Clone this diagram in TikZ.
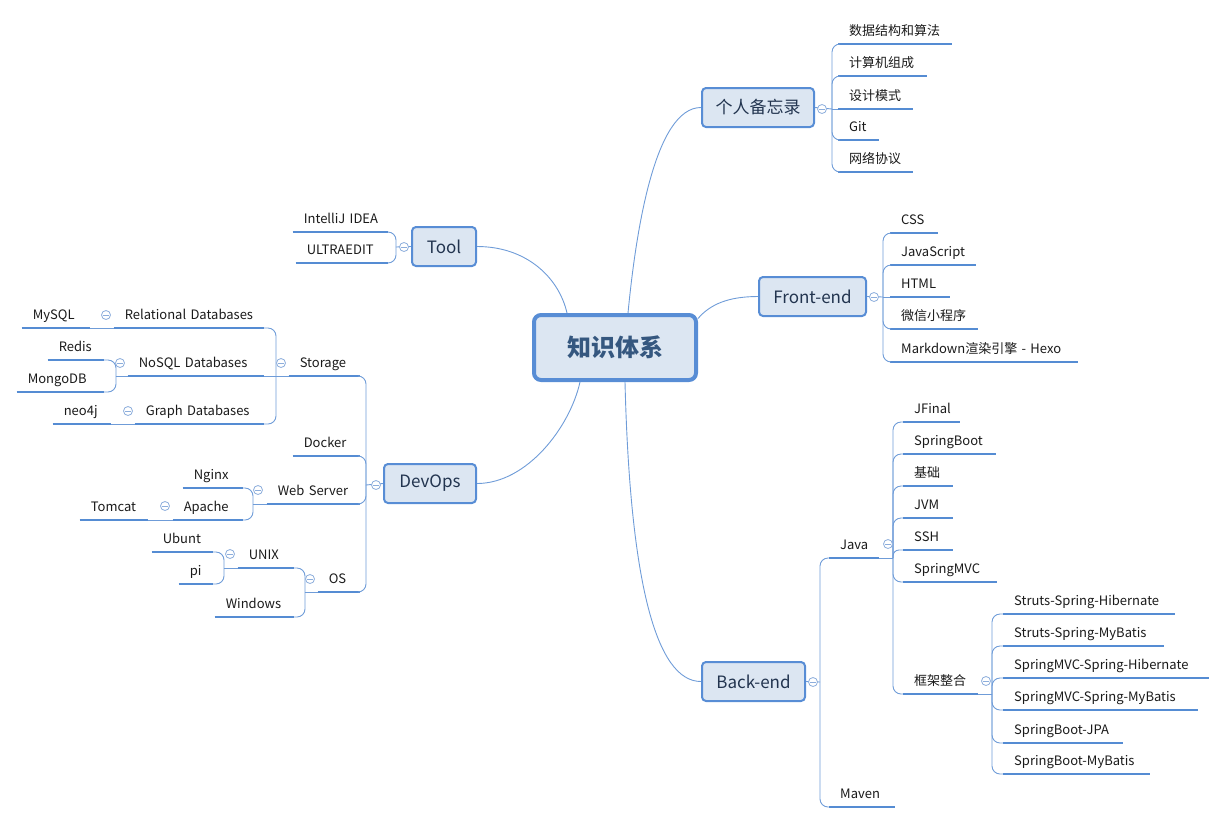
\documentclass[tikz,border=0pt]{standalone}
\usepackage{fontspec}
\setmainfont{Noto Sans CJK SC}
\definecolor{boxfill}{HTML}{DCE6F2}
\definecolor{boxline}{HTML}{588DD5}
\definecolor{ulc}{HTML}{558CD3}
\definecolor{connc}{HTML}{6F9CD8}
\definecolor{circc}{HTML}{8DAEDC}
\definecolor{txt}{HTML}{1A1A1A}
\definecolor{boxtxt}{HTML}{22344F}
\definecolor{centxt}{HTML}{35577F}
\begin{document}
\begin{tikzpicture}[x=1pt,y=1pt,
  conn/.style={draw=connc, line width=0.9pt},
  br/.style={conn, rounded corners=8pt},
  uln/.style={draw=ulc, line width=2.8pt},
  leaf/.style={text width=#1-22pt, align=left, inner xsep=11pt, inner ysep=5pt, text height=9.5pt, text depth=3pt,
    font=\fontsize{13}{15}\selectfont, text=txt,
    execute at begin node={\noindent\hbox\bgroup}, execute at end node={\egroup},
    append after command={(\tikzlastnode.south west) edge[uln] (\tikzlastnode.south east)}},
  topic/.style={draw=boxline, fill=boxfill, line width=2pt, rounded corners=4pt, minimum width=#1,
    minimum height=39pt, inner sep=0pt, font=\fontsize{17}{20}\selectfont, text=boxtxt},
  central/.style={draw=boxline, fill=boxfill, line width=4pt, rounded corners=7pt, minimum width=162pt,
    minimum height=65pt, inner sep=0pt, font=\fontsize{24}{28}\selectfont\bfseries, text=centxt},
  fold/.style={circle, draw=circc, fill=white, line width=0.8pt, minimum size=9pt, inner sep=0pt,
    path picture={\draw[circc, line width=0.8pt] ([xshift=-2.6pt]path picture bounding box.center) -- ([xshift=2.6pt]path picture bounding box.center);}}
]
\useasboundingbox (0,0) rectangle (1227,-823);

% ---------- main nodes ----------
\node[central] (cen) at (615,-347.5) {知识体系};
\node[topic=112] (mem) at (758,-107.5) {个人备忘录};
\node[topic=107] (fe) at (812.5,-296.5) {Front-end};
\node[topic=64] (tool) at (444,-246.5) {Tool};
\node[topic=92] (dev) at (430,-483.5) {DevOps};
\node[topic=103] (be) at (753.5,-681.5) {Back-end};

% ---------- 个人备忘录 ----------
\node[leaf=114, anchor=south west] (m1) at (838,-44) {数据结构和算法};
\node[leaf=89, anchor=south west] (m2) at (838,-76) {计算机组成};
\node[leaf=75, anchor=south west] (m3) at (838,-109) {设计模式};
\node[leaf=41, anchor=south west] (m4) at (838,-140) {Git};
\node[leaf=75, anchor=south west] (m5) at (838,-172) {网络协议};

% ---------- Front-end ----------
\node[leaf=48, anchor=south west] (f1) at (890,-233) {CSS};
\node[leaf=86, anchor=south west] (f2) at (890,-265) {JavaScript};
\node[leaf=60, anchor=south west] (f3) at (890,-297) {HTML};
\node[leaf=88, anchor=south west] (f4) at (890,-329) {微信小程序};
\node[leaf=188, anchor=south west] (f5) at (890,-362) {Markdown渲染引擎 - Hexo};

% ---------- Tool ----------
\node[leaf=95, anchor=south east] (t1) at (388,-232) {IntelliJ IDEA};
\node[leaf=92, anchor=south east] (t2) at (388,-263) {ULTRAEDIT};

% ---------- DevOps ----------
\node[leaf=71, anchor=south east] (d1) at (360,-376) {Storage};
\node[leaf=67, anchor=south east] (d2) at (360,-456) {Docker};
\node[leaf=93, anchor=south east] (d3) at (360,-504) {Web Server};
\node[leaf=42, anchor=south east] (d4) at (360,-592) {OS};

\node[leaf=150, anchor=south east] (s1) at (264,-328) {Relational Databases};
\node[leaf=136, anchor=south east] (s2) at (264,-376) {NoSQL Databases};
\node[leaf=129, anchor=south east] (s3) at (264,-424) {Graph Databases};
\node[leaf=68, anchor=south east] (mysql) at (90,-328) {MySQL};
\node[leaf=56, anchor=south east] (redis) at (104,-360) {Redis};
\node[leaf=87, anchor=south east] (mongo) at (104,-392) {MongoDB};
\node[leaf=58, anchor=south east] (neo) at (111,-424) {neo4j};

\node[leaf=60, anchor=south east] (nginx) at (243,-488) {Nginx};
\node[leaf=70, anchor=south east] (apache) at (243,-520) {Apache};
\node[leaf=68, anchor=south east] (tomcat) at (148,-520) {Tomcat};

\node[leaf=56, anchor=south east] (unix) at (294,-568) {UNIX};
\node[leaf=79, anchor=south east] (win) at (294,-617) {Windows};
\node[leaf=61, anchor=south east] (ubunt) at (213,-552) {Ubunt};
\node[leaf=34, anchor=south east] (pi) at (213,-584) {pi};

% ---------- Back-end ----------
\node[leaf=50, anchor=south west] (java) at (829,-558) {Java};
\node[leaf=66, anchor=south west] (maven) at (829,-807) {Maven};
\node[leaf=57, anchor=south west] (j1) at (903,-422) {JFinal};
\node[leaf=93, anchor=south west] (j2) at (903,-454) {SpringBoot};
\node[leaf=50, anchor=south west] (j3) at (903,-486) {基础};
\node[leaf=50, anchor=south west] (j4) at (903,-518) {JVM};
\node[leaf=50, anchor=south west] (j5) at (903,-550) {SSH};
\node[leaf=94, anchor=south west] (j6) at (903,-582) {SpringMVC};
\node[leaf=75, anchor=south west] (j7) at (903,-694) {框架整合};
\node[leaf=172, anchor=south west] (k1) at (1003,-614) {Struts-Spring-Hibernate};
\node[leaf=161, anchor=south west] (k2) at (1003,-646) {Struts-Spring-MyBatis};
\node[leaf=206, anchor=south west] (k3) at (1003,-678) {SpringMVC-Spring-Hibernate};
\node[leaf=195, anchor=south west] (k4) at (1003,-710) {SpringMVC-Spring-MyBatis};
\node[leaf=120, anchor=south west] (k5) at (1003,-743) {SpringBoot-JPA};
\node[leaf=147, anchor=south west] (k6) at (1003,-774) {SpringBoot-MyBatis};

% ---------- trunk points ----------
\coordinate (t-mem) at (832,-109);
\coordinate (t-fe) at (883,-297);
\coordinate (t-tool) at (396,-247);
\coordinate (t-dev) at (366,-485);
\coordinate (t-stor) at (276,-376);
\coordinate (t-nosql) at (116,-376);
\coordinate (t-web) at (253,-504);
\coordinate (t-os) at (305,-592);
\coordinate (t-unix) at (224,-568);
\coordinate (t-be) at (820,-682);
\coordinate (t-java) at (893,-558);
\coordinate (t-fw) at (992,-694);

% central connectors
\draw[conn] ([xshift=13pt]cen.north) .. controls +(8,83) and +(-46,0) .. (mem.west);
\draw[conn] ([yshift=29pt]cen.east) .. controls +(12,14) and +(-30,0) .. (fe.west);
\draw[conn] ([xshift=-48pt]cen.north) .. controls +(-8,35) and +(50,0) .. (tool.east);
\draw[conn] ([xshift=-35pt]cen.south) .. controls +(-10,-45) and +(50,0) .. (dev.east);
\draw[conn] ([xshift=10pt]cen.south) .. controls +(5,-200) and +(-45,0) .. (be.west);

% 个人备忘录
\draw[conn] (mem.east) -- (t-mem);
\draw[br] (t-mem) |- (m1.south west);
\draw[br] (t-mem) |- (m2.south west);
\draw[conn] (t-mem) -- (m3.south west);
\draw[br] (t-mem) |- (m4.south west);
\draw[br] (t-mem) |- (m5.south west);

% Front-end
\draw[conn] (fe.east) -- (t-fe);
\draw[br] (t-fe) |- (f1.south west);
\draw[br] (t-fe) |- (f2.south west);
\draw[conn] (t-fe) -- (f3.south west);
\draw[br] (t-fe) |- (f4.south west);
\draw[br] (t-fe) |- (f5.south west);

% Tool
\draw[conn] (tool.west) -- (t-tool);
\draw[br] (t-tool) |- (t1.south east);
\draw[br] (t-tool) |- (t2.south east);

% DevOps
\draw[conn] (dev.west) -- (t-dev);
\draw[br] (t-dev) |- (d1.south east);
\draw[br] (t-dev) |- (d2.south east);
\draw[br] (t-dev) |- (d3.south east);
\draw[br] (t-dev) |- (d4.south east);

\draw[conn] (d1.south west) -- (t-stor);
\draw[br] (t-stor) |- (s1.south east);
\draw[conn] (t-stor) -- (s2.south east);
\draw[br] (t-stor) |- (s3.south east);
\draw[conn] (s1.south west) -- (mysql.south east);
\draw[conn] (s2.south west) -- (t-nosql);
\draw[br] (t-nosql) |- (redis.south east);
\draw[br] (t-nosql) |- (mongo.south east);
\draw[conn] (s3.south west) -- (neo.south east);

\draw[conn] (d3.south west) -- (t-web);
\draw[br] (t-web) |- (nginx.south east);
\draw[br] (t-web) |- (apache.south east);
\draw[conn] (apache.south west) -- (tomcat.south east);

\draw[conn] (d4.south west) -- (t-os);
\draw[br] (t-os) |- (unix.south east);
\draw[br] (t-os) |- (win.south east);
\draw[conn] (unix.south west) -- (t-unix);
\draw[br] (t-unix) |- (ubunt.south east);
\draw[br] (t-unix) |- (pi.south east);

% Back-end
\draw[conn] (be.east) -- (t-be);
\draw[br] (t-be) |- (java.south west);
\draw[br] (t-be) |- (maven.south west);
\draw[conn] (java.south east) -- (t-java);
\draw[br] (t-java) |- (j1.south west);
\draw[br] (t-java) |- (j2.south west);
\draw[br] (t-java) |- (j3.south west);
\draw[br] (t-java) |- (j4.south west);
\draw[conn, rounded corners=6pt] (t-java) |- (j5.south west);
\draw[br] (t-java) |- (j6.south west);
\draw[br] (t-java) |- (j7.south west);
\draw[conn] (j7.south east) -- (t-fw);
\draw[br] (t-fw) |- (k1.south west);
\draw[br] (t-fw) |- (k2.south west);
\draw[br] (t-fw) |- (k3.south west);
\draw[br] (t-fw) |- (k4.south west);
\draw[br] (t-fw) |- (k5.south west);
\draw[br] (t-fw) |- (k6.south west);

% ---------- fold circles (on top of connectors) ----------
\node[fold] (c-mem) at (822,-109) {};
\node[fold] (c-fe) at (874,-297) {};
\node[fold] (c-tool) at (404,-247) {};
\node[fold] (c-dev) at (376,-485) {};
\node[fold] (c-be) at (813,-682) {};
\node[fold] (c-stor) at (281,-363) {};
\node[fold] (c-rel) at (106,-315) {};
\node[fold] (c-nosql) at (120,-363) {};
\node[fold] (c-graph) at (128,-411) {};
\node[fold] (c-web) at (258,-490) {};
\node[fold] (c-apache) at (165,-506) {};
\node[fold] (c-os) at (310,-579) {};
\node[fold] (c-unix) at (230,-554) {};
\node[fold] (c-java) at (888,-544) {};
\node[fold] (c-fw) at (986,-681) {};
\end{tikzpicture}
\end{document}
